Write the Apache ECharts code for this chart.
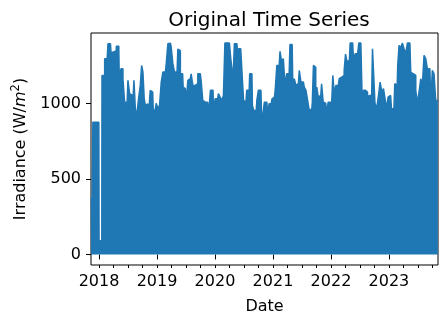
<!DOCTYPE html>
<html>
<head>
<meta charset="utf-8">
<script src="https://cdn.jsdelivr.net/npm/echarts@6/dist/echarts.min.js"></script>
<style>
html,body{margin:0;padding:0;background:#fff;}
#chart{width:448px;height:325px;}
</style>
</head>
<body>
<div id="chart"></div>
<script>
// Time in decimal years, and the daily-peak envelope of irradiance (W/m^2)
var times = [
2017.869,2017.880,2017.893,2017.895,2017.997,2018.005,2018.048,2018.055,2018.083,2018.112,
2018.141,2018.169,2018.198,2018.215,2018.244,2018.267,2018.284,2018.313,2018.341,2018.358,
2018.399,2018.427,2018.456,2018.485,2018.513,2018.542,2018.571,2018.589,2018.616,2018.640,
2018.668,2018.697,2018.726,2018.744,2018.771,2018.788,2018.812,2018.840,2018.869,2018.898,
2018.926,2018.943,2018.972,2019.002,2019.029,2019.059,2019.088,2019.115,2019.145,2019.174,
2019.201,2019.231,2019.260,2019.287,2019.317,2019.346,2019.374,2019.391,2019.415,2019.442,
2019.460,2019.489,2019.518,2019.546,2019.575,2019.604,2019.632,2019.661,2019.690,2019.718,
2019.747,2019.776,2019.804,2019.833,2019.873,2019.907,2019.936,2019.966,2019.988,2020.017,
2020.045,2020.074,2020.103,2020.131,2020.160,2020.182,2020.207,2020.234,2020.263,2020.281,
2020.303,2020.320,2020.349,2020.379,2020.396,2020.423,2020.465,2020.482,2020.504,2020.534,
2020.561,2020.590,2020.608,2020.637,2020.654,2020.682,2020.711,2020.733,2020.763,2020.792,
2020.819,2020.837,2020.866,2020.895,2020.923,2020.940,2020.969,2020.998,2021.026,2021.055,
2021.078,2021.107,2021.136,2021.164,2021.193,2021.222,2021.250,2021.279,2021.308,2021.331,
2021.353,2021.382,2021.411,2021.439,2021.468,2021.497,2021.525,2021.554,2021.584,2021.611,
2021.640,2021.670,2021.687,2021.709,2021.730,2021.745,2021.766,2021.795,2021.825,2021.852,
2021.881,2021.911,2021.938,2021.967,2021.997,2022.024,2022.041,2022.071,2022.100,2022.127,
2022.157,2022.186,2022.213,2022.243,2022.260,2022.289,2022.317,2022.346,2022.375,2022.403,
2022.432,2022.461,2022.501,2022.530,2022.547,2022.575,2022.616,2022.644,2022.673,2022.702,
2022.730,2022.747,2022.771,2022.806,2022.833,2022.862,2022.892,2022.919,2022.948,2022.971,
2023.000,2023.029,2023.057,2023.086,2023.115,2023.143,2023.160,2023.189,2023.218,2023.246,
2023.275,2023.305,2023.332,2023.361,2023.391,2023.418,2023.448,2023.477,2023.504,2023.534,
2023.563,2023.590,2023.620,2023.649,2023.677,2023.706,2023.735,2023.762,2023.792,2023.821,
2023.843
];
var irradiance = [
378,0,0,876,876,90,90,1186,1186,1297,
1297,1396,1396,1340,1340,1350,1350,1380,1380,1164,
1230,1164,1009,1009,1153,1065,1055,965,1153,956,
934,1031,1120,1252,1208,1031,987,998,923,1087,
1076,965,934,1001,965,987,1142,1208,1208,1264,
1396,1400,1371,1264,1208,1208,1360,1350,1197,1197,
1109,1098,1009,1153,1164,1197,1120,1120,1131,1197,
1197,1150,1020,1009,1009,932,1087,1087,932,1031,
1031,1065,1042,1020,1053,1400,1400,1400,1400,1297,
1230,1153,1396,1396,1330,1363,1363,1153,1020,1009,
1087,1087,1197,1197,987,954,954,1020,1087,1087,
898,932,1009,1009,900,998,998,1031,1042,1098,
1252,1252,1345,1275,1297,1120,1197,1197,1391,1391,
1120,1164,1120,1131,1219,1142,1142,1109,1087,1020,
954,965,1009,1252,1240,1065,1109,1042,1053,1131,
1009,1002,932,1009,1009,987,1186,1065,1120,1120,
1164,1175,1186,1219,1327,1281,1281,1400,1400,1281,
1330,1330,1400,1400,1020,1087,1076,1009,1053,1053,
1363,1363,1002,965,1053,1142,1076,1098,1031,965,
1042,1053,965,965,1131,1120,1252,1385,1371,1400,
1363,1330,1400,1400,1208,1197,1186,1087,1002,1076,
1164,1120,1319,1297,1230,1230,1009,1219,1197,1020,
1020
];
var yearTicks = [2018, 2019, 2020, 2021, 2022, 2023];
var yearLabels = ['2018', '2019', '2020', '2021', '2022', '2023'];
var quarterTicks = [];
for (var yq = 2018; yq <= 2023.76; yq += 0.25) { quarterTicks.push(Math.round(yq * 100) / 100); }
var yTicks = [0, 500, 1000];
var yLabels = ['0', '500', '1000'];

var X_MIN = 2017.862, X_MAX = 2023.846;
var Y_MIN = -70, Y_MAX = 1467;

var seriesData = times.map(function (t, i) { return [t, irradiance[i]]; });

var FONT = 'DejaVu Sans';
var chart = echarts.init(document.getElementById('chart'), null, { renderer: 'canvas' });
chart.setOption({
  animation: false,
  backgroundColor: '#ffffff',
  title: {
    text: 'Original Time Series',
    left: 264, top: 6, textAlign: 'center',
    textStyle: { fontFamily: FONT, fontSize: 20, fontWeight: 'normal', color: '#000' }
  },
  grid: {
    left: 91, right: 10, top: 33, bottom: 60,
    show: true, borderColor: '#000', borderWidth: 1, backgroundColor: 'transparent'
  },
  xAxis: [{
    type: 'value', min: X_MIN, max: X_MAX,
    name: 'Date', nameLocation: 'middle', nameGap: 34,
    nameTextStyle: { fontFamily: FONT, fontSize: 16, color: '#000' },
    axisLine: { show: false },
    axisTick: { show: true, inside: false, length: 5, customValues: yearTicks, lineStyle: { color: '#000', width: 1 } },
    axisLabel: {
      fontFamily: FONT, fontSize: 16, color: '#000', margin: 9,
      customValues: yearTicks,
      formatter: function (v) { return yearLabels[yearTicks.indexOf(Math.round(v))]; }
    },
    splitLine: { show: false }
  }, {
    type: 'value', min: X_MIN, max: X_MAX, position: 'bottom',
    axisLine: { show: false },
    axisTick: { show: true, inside: false, length: 3, customValues: quarterTicks, lineStyle: { color: '#000', width: 1 } },
    axisLabel: { show: false },
    splitLine: { show: false }
  }],
  yAxis: {
    type: 'value', min: Y_MIN, max: Y_MAX,
    name: 'Irradiance (W/{i|m}{sup|2})', nameLocation: 'middle', nameRotate: 90, nameGap: 60,
    nameTextStyle: {
      fontFamily: FONT, fontSize: 16, color: '#000',
      rich: {
        i: { fontFamily: FONT, fontSize: 16, fontStyle: 'italic', color: '#000' },
        sup: { fontFamily: FONT, fontSize: 11.5, color: '#000', padding: [0, 0, 9, 0] }
      }
    },
    axisLine: { show: false },
    axisTick: { show: true, inside: false, length: 5, customValues: yTicks, lineStyle: { color: '#000', width: 1 } },
    axisLabel: {
      fontFamily: FONT, fontSize: 16, color: '#000', margin: 10, customValues: yTicks,
      formatter: function (v) { return yLabels[yTicks.indexOf(Math.round(v))]; }
    },
    splitLine: { show: false }
  },
  series: [{
    type: 'line',
    xAxisIndex: 0,
    data: seriesData,
    step: 'middle',
    showSymbol: false,
    lineStyle: { color: '#1f77b4', width: 1.5 },
    areaStyle: { color: '#1f77b4', opacity: 1, origin: 0 },
    silent: true
  }]
});
</script>
</body>
</html>
